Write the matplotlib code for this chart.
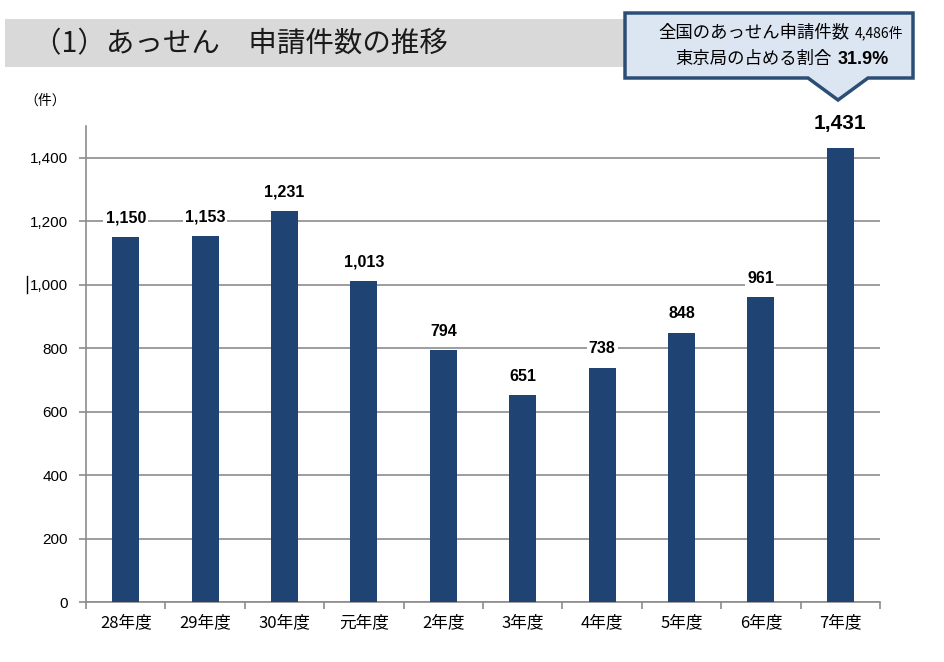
import matplotlib.pyplot as plt
from matplotlib.patches import Polygon, Rectangle
from matplotlib.lines import Line2D

plt.rcParams['font.family'] = ['Liberation Sans', 'Noto Sans CJK JP', 'DejaVu Sans']

# data
years = ['28年度', '29年度', '30年度', '元年度', '2年度', '3年度', '4年度', '5年度', '6年度', '7年度']
counts = [1150, 1153, 1231, 1013, 794, 651, 738, 848, 961, 1431]
yticks = [0, 200, 400, 600, 800, 1000, 1200, 1400]

W, H = 945, 662
bar_col = '#1f4373'
grid_col = '#8c8c8c'
jp = ['Noto Sans CJK JP', 'DejaVu Sans']

def fx(px):
    return px / W

def fy(py):
    return 1 - py / H

fig = plt.figure(figsize=(W / 100, H / 100), dpi=100)

# header band + title
fig.add_artist(Rectangle((fx(5), fy(67)), fx(620), 48 / H, transform=fig.transFigure,
                         facecolor='#d9d9d9', edgecolor='none', zorder=0))
fig.text(fx(33), fy(44), '（1）あっせん　申請件数の推移', fontsize=20.5, family=jp,
         va='center', ha='left', color='#1a1a1a')

# callout
pts = [(625, 13), (913, 13), (913, 78), (868, 78), (838, 100), (808, 78), (625, 78)]
fig.add_artist(Polygon([(fx(x), fy(y)) for x, y in pts], closed=True, transform=fig.transFigure,
                       facecolor='#dce6f2', edgecolor='#2c4d75', linewidth=2.5, zorder=5))
fig.text(fx(849), fy(32), '全国のあっせん申請件数', fontsize=12.5, family=jp,
         ha='right', va='center', zorder=6)
fig.text(fx(855), fy(33), '4,486件', fontsize=10, family=jp,
         ha='left', va='center', zorder=6)
fig.text(fx(832), fy(59), '東京局の占める割合', fontsize=12.5, family=jp,
         ha='right', va='center', zorder=6)
fig.text(fx(838), fy(59), '31.9%', fontsize=13, fontweight='bold',
         ha='left', va='center', zorder=6)

fig.text(fx(24), fy(101), '（件）', fontsize=10, family=jp, ha='left', va='center')
fig.add_artist(Line2D([fx(27), fx(27)], [fy(276), fy(293)], transform=fig.transFigure,
                      color='black', linewidth=1))

ax = fig.add_axes([fx(86), 60 / H, fx(880 - 86), (602 - 126) / H])
x = range(len(years))
ax.bar(x, counts, width=0.34, color=bar_col, zorder=3)
ax.set_xlim(-0.5, len(years) - 0.5)
ax.set_ylim(0, 1500)

for i, v in enumerate(counts):
    big = i == len(counts) - 1
    ax.annotate(f'{v:,}', (i, v), xytext=(0, 24 if big else 19), textcoords='offset pixels',
                ha='center', va='center', fontsize=15 if big else 11.5, fontweight='bold',
                bbox=dict(facecolor='white', edgecolor='none', pad=1.5), zorder=4)

ax.set_yticks(yticks)
ax.set_yticklabels([f'{t:,}' for t in yticks], fontsize=11)
ax.yaxis.grid(True, color=grid_col, linewidth=1.2, zorder=0)
ax.tick_params(axis='y', length=5, color=grid_col, width=1.2, pad=8)

ax.set_xticks(list(x))
ax.set_xticklabels(years, fontsize=12, family=jp)
ax.set_xticks([i - 0.5 for i in range(len(years) + 1)], minor=True)
ax.tick_params(axis='x', which='major', length=0, pad=9)
ax.tick_params(axis='x', which='minor', length=5, color=grid_col, width=1.2)

for s in ['top', 'right']:
    ax.spines[s].set_visible(False)
for s in ['left', 'bottom']:
    ax.spines[s].set_color(grid_col)
    ax.spines[s].set_linewidth(1.2)

fig.savefig('out.png', dpi=100)
